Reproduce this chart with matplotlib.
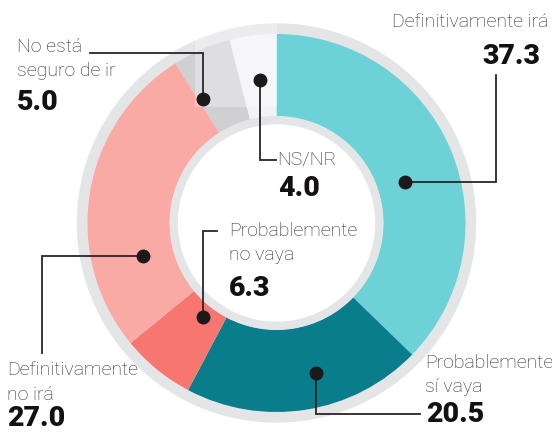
import matplotlib
matplotlib.use("Agg")
import matplotlib.pyplot as plt
from matplotlib.patches import Circle, Rectangle

# ---------------------------------------------------------------------------
# Data
# ---------------------------------------------------------------------------
categories = ["Definitivamente irá", "Probablemente sí vaya", "Probablemente no vaya",
              "Definitivamente no irá", "No está seguro de ir", "NS/NR"]
values = [37.3, 20.5, 6.3, 27.0, 5.0, 4.0]
label_lines = [["Definitivamente irá"], ["Probablemente", "sí vaya"],
               ["Probablemente", "no vaya"], ["Definitivamente", "no irá"],
               ["No está", "seguro de ir"], ["NS/NR"]]
colors = ["#6CD2D7", "#0A7D8C", "#F7766F", "#F9AAA4", "#D0D0D3", "#F3F3F5"]

# ---------------------------------------------------------------------------
# Layout (pixel coordinates, y down)
# ---------------------------------------------------------------------------
W, H = 552, 433
CX, CY = 276.5, 223
R_RING, R_OUT, R_IN, R_HOLE_RING, R_HOLE = 199, 189, 107, 106, 98
RING_GRAY = "#E4E5E7"
LINE_COLOR = "#2a2526"
DOT_COLOR = "#1d1819"

# callouts: leader path (dot first), first text line anchor, ha, value anchor
callouts = [
    dict(path=[(405, 182), (496, 182), (496, 75)],
         text=(548, 22), ha="right", num=(540, 57)),
    dict(path=[(316, 373), (316, 414), (420, 414)],
         text=(425, 363), ha="left", num=(426, 415)),
    dict(path=[(203, 317), (203, 231), (217, 231)],
         text=(229, 231), ha="left", num=(229, 289)),
    dict(path=[(143, 256), (42, 256), (42, 353)],
         text=(7, 370), ha="left", num=(7, 418)),
    dict(path=[(203, 99), (203, 53), (90, 53)],
         text=(17, 47), ha="left", num=(17, 103)),
    dict(path=[(260, 80), (260, 160), (276, 160)],
         text=(277, 160), ha="left", num=(278, 189)),
]

LABEL_FONT = ["Roboto", "DejaVu Sans"]
NUM_FONT = ["Roboto", "DejaVu Sans"]

fig = plt.figure(figsize=(W / 100, H / 100), dpi=100)
ax = fig.add_axes([0, 0, 1, 1])

ax.add_patch(Circle((CX, CY), R_RING, color=RING_GRAY, zorder=0))

# y axis is inverted, so counterclockwise in data = clockwise on screen
ax.pie(values, colors=colors, startangle=-90, counterclock=True,
       center=(CX, CY), radius=R_OUT,
       wedgeprops=dict(width=R_OUT - R_IN, linewidth=0))

ax.add_patch(Circle((CX, CY), R_HOLE_RING, color=RING_GRAY, zorder=3))
ax.add_patch(Circle((CX, CY), R_HOLE, color="white", zorder=4))

# faded patch over the top of the ring, as in the original artwork
ax.add_patch(Rectangle((195, 11), 82, 96, color="white", alpha=0.3,
                       lw=0, zorder=5))

for lines, value, c in zip(label_lines, values, callouts):
    xs = [p[0] for p in c["path"]]
    ys = [p[1] for p in c["path"]]
    ax.plot(xs, ys, color=LINE_COLOR, lw=1.3, zorder=6, solid_joinstyle="miter")
    ax.plot(xs[0], ys[0], "o", color=DOT_COLOR, ms=9, zorder=7)
    tx, ty = c["text"]
    for i, line in enumerate(lines):
        ax.text(tx, ty + i * 24.5, line, ha=c["ha"], va="center",
                fontsize=14, fontweight="light", color="#2b2b2b",
                family=LABEL_FONT, zorder=8)
    nx, ny = c["num"]
    ax.text(nx, ny, f"{value:.1f}", ha=c["ha"], va="center",
            fontsize=20.5, fontweight="black", color="#141112",
            family=NUM_FONT, zorder=8)

ax.set_xlim(0, W)
ax.set_ylim(H, 0)
ax.set_aspect("equal")
ax.axis("off")

fig.savefig("out.png", dpi=100)
